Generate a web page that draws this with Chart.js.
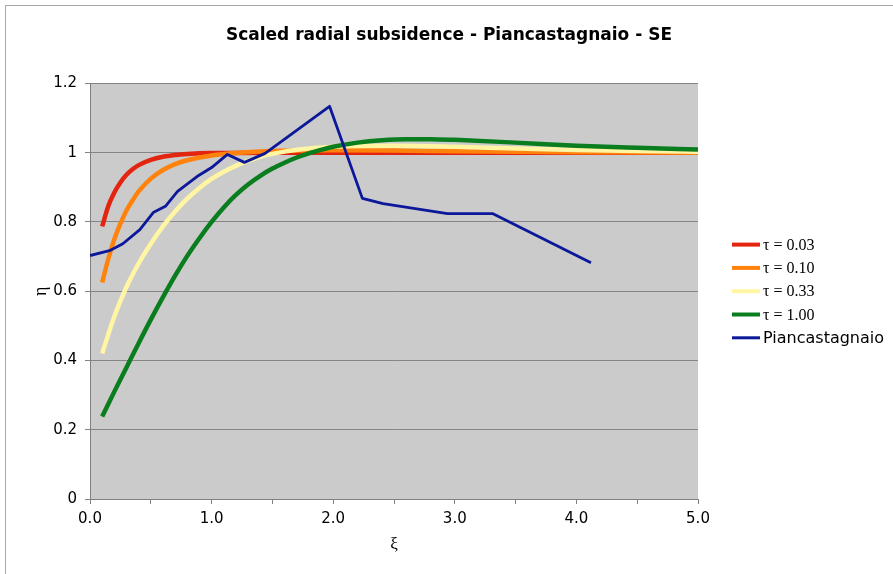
<!DOCTYPE html>
<html><head><meta charset="utf-8">
<script src="https://cdn.jsdelivr.net/npm/chart.js@4.4.1/dist/chart.umd.min.js"></script>
<style>html,body{margin:0;padding:0;background:#fff}#wrap{width:893px;height:574px}</style>
</head><body><div id="wrap"><canvas id="c" width="893" height="574"></canvas></div>
<script>
const chartTitle = "Scaled radial subsidence - Piancastagnaio - SE";
const xAxisTitle = "ξ";
const yAxisTitle = "η";
const seriesLabels = ["τ = 0.03", "τ = 0.10", "τ = 0.33", "τ = 1.00", "Piancastagnaio"];

const xTau003 = [0.1, 0.15, 0.2, 0.25, 0.3, 0.35, 0.4, 0.5, 0.6, 0.7, 0.8, 1.0, 1.5, 2.0, 3.0, 4.0, 5.0];
const yTau003 = [0.787, 0.845, 0.885, 0.914, 0.936, 0.952, 0.964, 0.979, 0.988, 0.993, 0.996, 0.999, 1.0, 1.0, 1.0, 1.0, 1.0];

const xTau010 = [0.1, 0.15, 0.2, 0.25, 0.3, 0.35, 0.4, 0.5, 0.6, 0.7, 0.8, 0.9, 1.0, 1.2, 1.5, 2.0, 2.5, 3.0, 4.0, 5.0];
const yTau010 = [0.625, 0.693, 0.75, 0.795, 0.833, 0.862, 0.888, 0.925, 0.95, 0.967, 0.978, 0.986, 0.992, 0.999, 1.005, 1.007, 1.006, 1.004, 1.001, 1.0];

const xTau033 = [0.1, 0.2, 0.3, 0.4, 0.5, 0.6, 0.7, 0.8, 0.9, 1.0, 1.1, 1.2, 1.3, 1.4, 1.6, 1.8, 2.0, 2.5, 3.0, 3.5, 4.0, 4.5, 5.0];
const yTau033 = [0.42, 0.527, 0.612, 0.68, 0.737, 0.787, 0.83, 0.867, 0.898, 0.924, 0.945, 0.962, 0.976, 0.988, 1.003, 1.012, 1.017, 1.02, 1.017, 1.012, 1.008, 1.005, 1.003];

const xTau100 = [0.1, 0.2, 0.3, 0.4, 0.5, 0.6, 0.7, 0.8, 0.9, 1.0, 1.1, 1.2, 1.3, 1.4, 1.5, 1.6, 1.7, 1.8, 1.9, 2.0, 2.2, 2.4, 2.6, 2.8, 3.0, 3.5, 4.0, 4.5, 5.0];
const yTau100 = [0.238, 0.31, 0.38, 0.45, 0.518, 0.583, 0.645, 0.702, 0.753, 0.80, 0.842, 0.878, 0.908, 0.933, 0.954, 0.971, 0.986, 0.998, 1.008, 1.017, 1.029, 1.036, 1.039, 1.039, 1.037, 1.029, 1.02, 1.014, 1.009];

const xPianc = [0, 0.16, 0.27, 0.41, 0.52, 0.62, 0.72, 0.88, 1.0, 1.13, 1.27, 1.44, 1.97, 2.24, 2.41, 2.94, 3.31, 4.12];
const yPianc = [0.703, 0.717, 0.737, 0.778, 0.827, 0.845, 0.888, 0.931, 0.957, 0.995, 0.972, 0.998, 1.134, 0.868, 0.853, 0.824, 0.824, 0.682];

const seriesColors = ["#e3240f", "#ff820c", "#fff5a3", "#0a7d1e", "#0c189a"];

function pts(xs, ys) { return xs.map((x, i) => ({ x: x, y: ys[i] })); }

const xsAll = [xTau003, xTau010, xTau033, xTau100, xPianc];
const ysAll = [yTau003, yTau010, yTau033, yTau100, yPianc];

const datasets = seriesLabels.map((lab, i) => ({
  label: lab,
  data: pts(xsAll[i], ysAll[i]),
  borderColor: seriesColors[i],
  backgroundColor: seriesColors[i],
  borderWidth: i < 4 ? 4.5 : 2.8,
  pointRadius: 0,
  cubicInterpolationMode: i < 4 ? 'monotone' : 'default',
  tension: 0,
  order: 5 - i,
  borderCapStyle: 'butt',
  borderJoinStyle: 'round',
  yAxisID: 'y'
}));

const bgPlugin = {
  id: 'bg',
  beforeDraw(chart) {
    const ctx = chart.ctx, a = chart.chartArea;
    ctx.save();
    ctx.fillStyle = '#fff';
    ctx.fillRect(0, 0, chart.width, chart.height);
    ctx.strokeStyle = '#a8a8a8';
    ctx.lineWidth = 1;
    ctx.strokeRect(5.5, 5.5, chart.width + 10, chart.height + 10);
    ctx.fillStyle = '#cbcbcb';
    ctx.fillRect(a.left, a.top, a.right - a.left, a.bottom - a.top);
    ctx.restore();
  }
};

const legendPlugin = {
  id: 'customLegend',
  afterDraw(chart) {
    const ctx = chart.ctx, a = chart.chartArea;
    const cy = (a.top + a.bottom) / 2;
    const x0 = a.right + 34;
    ctx.save();
    chart.data.datasets.forEach((ds, i) => {
      const y = cy + (i - 2) * 23.3;
      ctx.strokeStyle = ds.borderColor;
      ctx.lineWidth = i < 4 ? 4 : 3;
      ctx.beginPath();
      ctx.moveTo(x0, y);
      ctx.lineTo(x0 + 28, y);
      ctx.stroke();
      ctx.fillStyle = '#000';
      ctx.textBaseline = 'middle';
      ctx.textAlign = 'left';
      ctx.font = i < 4 ? '16px "Liberation Serif"' : '16px "DejaVu Sans"';
      ctx.fillText(ds.label, x0 + 31, y + 1);
    });
    ctx.restore();
  }
};

new Chart(document.getElementById('c'), {
  type: 'line',
  data: { datasets: datasets },
  plugins: [bgPlugin, legendPlugin],
  options: {
    responsive: false,
    animation: false,
    devicePixelRatio: 1,
    layout: { padding: { left: 5, top: 5, right: 0, bottom: 19 } },
    plugins: {
      legend: { display: false },
      tooltip: { enabled: false },
      title: {
        display: true,
        text: chartTitle,
        color: '#000',
        font: { family: '"DejaVu Sans"', size: 17, weight: 'bold' },
        padding: { top: 20, bottom: 38 }
      }
    },
    elements: { line: { tension: 0.4 } },
    scales: {
      x: {
        type: 'linear',
        min: 0, max: 5,
        ticks: {
          stepSize: 0.5,
          color: '#000',
          font: { family: '"DejaVu Sans"', size: 15 },
          padding: 6,
          maxRotation: 0,
          autoSkip: false,
          callback: v => (Math.abs(v - Math.round(v)) < 1e-9 ? v.toFixed(1) : '')
        },
        grid: { drawOnChartArea: false, drawTicks: true, tickLength: 5, color: '#808080' },
        border: { color: '#808080', width: 1 },
        title: { display: true, text: xAxisTitle, color: '#000', font: { family: '"Liberation Serif"', size: 17 }, padding: { top: 2, bottom: 0 } },
        afterFit: s => { s.height = 56; }
      },
      y: {
        min: 0, max: 1.2,
        ticks: {
          stepSize: 0.2,
          color: '#000',
          font: { family: '"DejaVu Sans"', size: 15 },
          padding: 8,
          callback: v => String(Math.round(v * 10) / 10)
        },
        grid: { color: '#858585', tickLength: 5, drawTicks: true },
        border: { color: '#808080', width: 1 },
        title: { display: true, text: yAxisTitle, color: '#000', font: { family: '"Liberation Serif"', size: 18 }, padding: { top: 25, bottom: 25 } },
        afterFit: s => { s.width = 85; }
      },
      legendSpace: {
        type: 'linear',
        position: 'right',
        display: true,
        ticks: { display: false },
        grid: { display: false, drawTicks: false },
        border: { display: false },
        afterFit: s => { s.width = 195; }
      }
    }
  }
});
</script>
</body></html>
